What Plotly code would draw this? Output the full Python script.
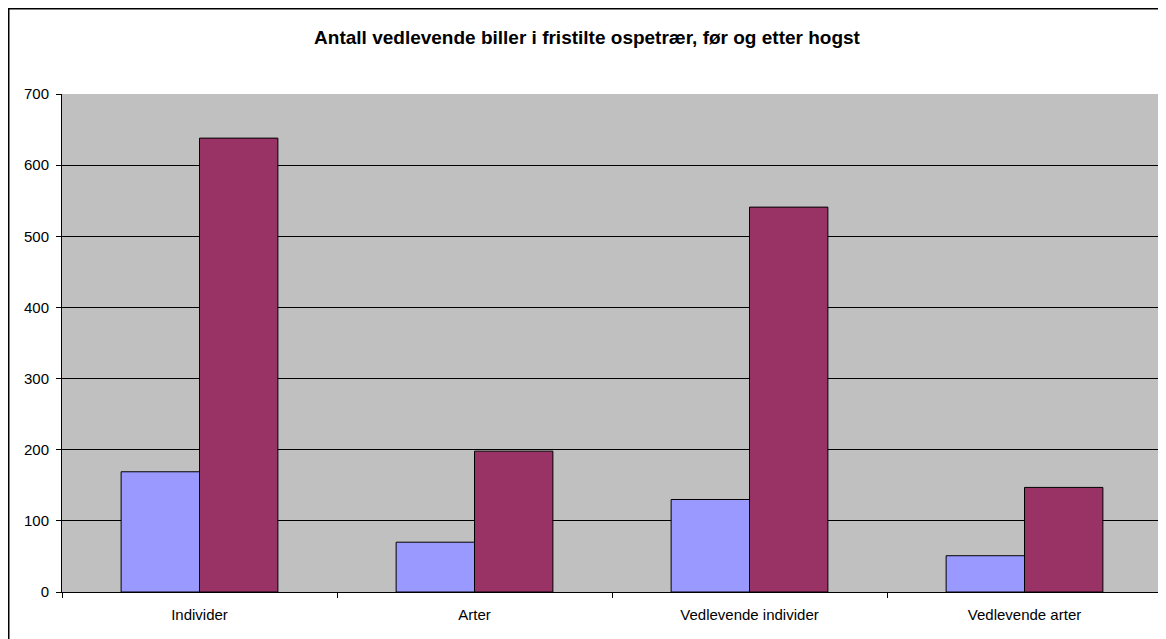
import plotly.graph_objects as go

categories = ["Individer", "Arter", "Vedlevende individer", "Vedlevende arter"]
foer = [169, 70, 130, 51]
etter = [638, 198, 541, 147]
y_ticks = [0, 100, 200, 300, 400, 500, 600, 700]

# the page body adds an 8px margin, so the figure is 8px smaller than the window
W, H = 1158, 631
L, R, T, B = 54, 4, 86, 47
plot_w, plot_h = W - L - R, H - T - B

fig = go.Figure()
fig.add_trace(go.Bar(x=categories, y=foer, name="Før hogst",
                     marker=dict(color="#9999FF", line=dict(color="black", width=1))))
fig.add_trace(go.Bar(x=categories, y=etter, name="Etter hogst",
                     marker=dict(color="#993366", line=dict(color="black", width=1))))

fig.update_layout(
    width=W, height=H,
    margin=dict(l=L, r=R, t=T, b=B),
    paper_bgcolor="white", plot_bgcolor="#C0C0C0",
    barmode="group", bargap=0.43, bargroupgap=0,
    showlegend=False,
    font=dict(family="Liberation Sans, Arial", size=15, color="black"),
    title=dict(text="<b>Antall vedlevende biller i fristilte ospetrær, før og etter hogst</b>",
               x=0.5, xanchor="center", y=1 - 29 / H, yanchor="middle",
               font=dict(size=19, color="black")),
)
fig.update_xaxes(
    type="category", tickson="boundaries", ticks="outside", ticklen=5,
    tickcolor="black", showline=True, linecolor="black", linewidth=1,
    showgrid=False, ticklabelstandoff=9,
)
fig.update_yaxes(
    range=[0, 700], tickvals=y_ticks, ticks="outside", ticklen=5,
    tickcolor="black", showline=True, linecolor="black", linewidth=1,
    showgrid=True, gridcolor="black", gridwidth=1, zeroline=False,
    ticklabelstandoff=4,
)
# outer chart border
fig.add_shape(type="rect", xref="paper", yref="paper",
              x0=(0.75 - L) / plot_w, x1=(W + 10 - L) / plot_w,
              y0=(plot_h + T - H - 10) / plot_h, y1=(plot_h + T - 0.75) / plot_h,
              line=dict(color="black", width=1.5), layer="below")

fig.write_html("out.html")
